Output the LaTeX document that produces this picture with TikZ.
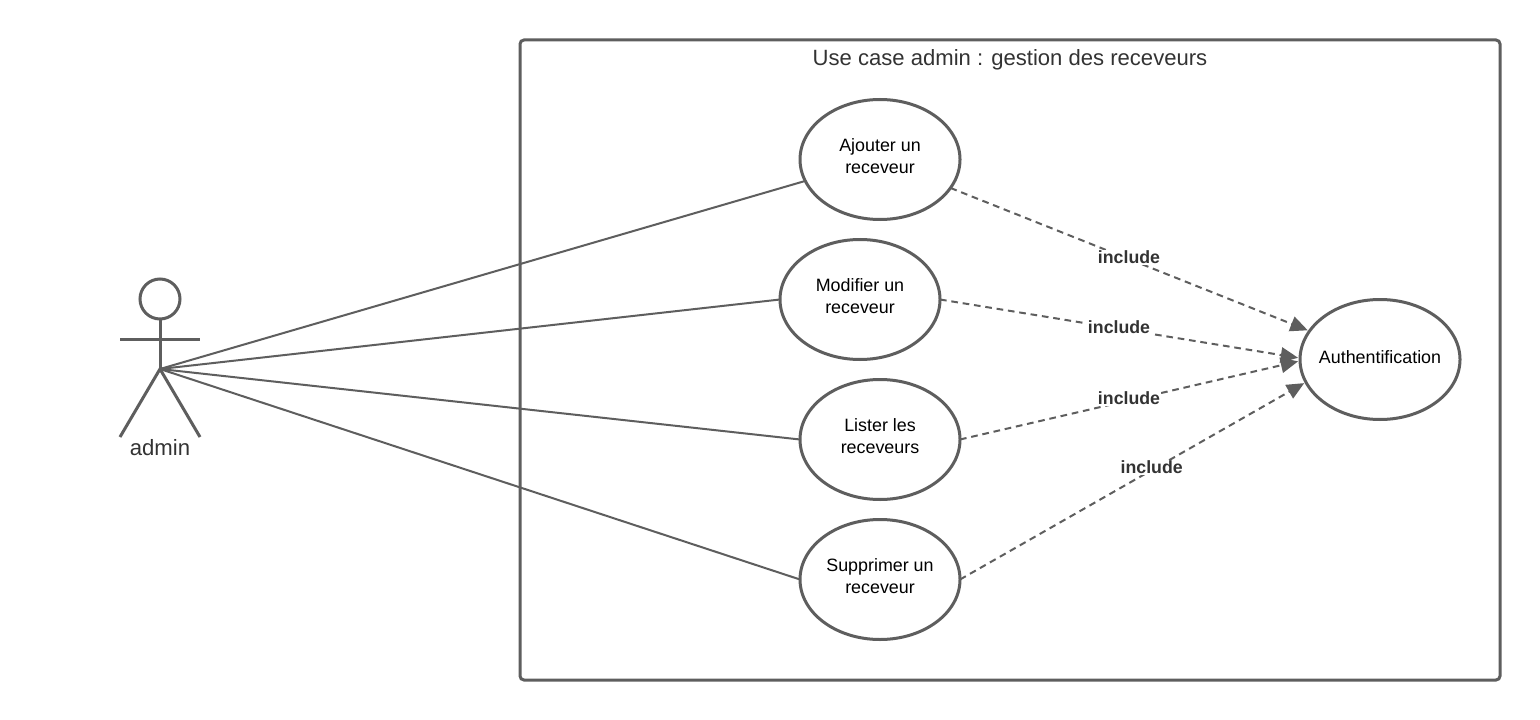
\documentclass[tikz,border=0pt]{standalone}
\usepackage{fontspec}
\setmainfont{Liberation Sans}
\usetikzlibrary{shapes.geometric,arrows.meta}
\definecolor{linegray}{HTML}{5E5E5E}
\definecolor{textgray}{HTML}{333333}
\tikzset{
  usecase/.style={draw=linegray,line width=2.25pt,ellipse,minimum width=120pt,minimum height=90pt,inner sep=0pt,outer sep=0pt,align=center,font=\fontsize{13.4}{16.5}\selectfont,text=black,text depth=5.5pt},
  authcase/.style={usecase,text depth=4pt},
  assoc/.style={draw=linegray,line width=1.5pt},
  incl/.style={draw=linegray,line width=1.5pt,dash pattern=on 5pt off 3.6pt,shorten >=1.5pt,-{Triangle[length=13pt,width=11.5pt,fill=linegray]}},
  incllabel/.style={fill=white,inner sep=1pt,font=\bfseries\fontsize{13.3}{14}\selectfont,text=textgray,yshift=1.5pt,xshift=-0.75pt},
  stick/.style={draw=linegray,line width=2.25pt},
}
\begin{document}
\begin{tikzpicture}[x=0.75pt,y=-0.75pt]
\useasboundingbox (0,0) rectangle (1540,720);
\fill[white] (0,0) rectangle (1540,720);
\node[draw=linegray,line width=2.25pt,rounded corners=3pt,minimum width=735pt,minimum height=480pt,inner sep=0pt,outer sep=0pt] (frame) at (1010,360) {};
\node[font=\fontsize{16.55}{18}\selectfont,text=textgray] (title) at (1010,59.5) {Use case admin : gestion des receveurs};
% actor
\node[circle,stick,minimum size=30pt,inner sep=0pt,outer sep=0pt] (head) at (160,299) {};
\coordinate (hip) at (160,369);
\coordinate (armL) at (120,339);
\coordinate (armR) at (200,339);
\coordinate (footL) at (120,437);
\coordinate (footR) at (200,437);
\draw[stick] (head.south) -- (hip);
\draw[stick] (armL) -- (armR);
\draw[stick] (footL) -- (hip) -- (footR);
\node[font=\fontsize{16.6}{18}\selectfont,text=textgray] (actorname) at (160,448) {admin};
% use cases
\node[usecase] (uc1) at (880,159.5) {Ajouter un\\receveur};
\node[usecase] (uc2) at (860,299.5) {Modifier un\\receveur};
\node[usecase] (uc3) at (880,439.5) {Lister les\\receveurs};
\node[usecase] (uc4) at (880,579.5) {Supprimer un\\receveur};
\node[authcase] (auth) at (1380,359.5) {\makebox[80pt]{Authentification}};
% associations
\draw[assoc] (hip) -- (uc1.196);
\draw[assoc] (hip) -- (uc2.west);
\draw[assoc] (hip) -- (uc3.west);
\draw[assoc] (hip) -- (uc4.west);
% includes
\draw[incl] (uc1.-22.5) -- node[incllabel,pos=0.5] {include} (auth.158);
\draw[incl] (uc2.east) -- node[incllabel,pos=0.5] {include} (auth.179);
\draw[incl] (uc3.east) -- node[incllabel,pos=0.5] {include} (auth.181);
\draw[incl] (uc4.east) -- node[incllabel,pos=0.557] {include} (auth.197);
\end{tikzpicture}
\end{document}
